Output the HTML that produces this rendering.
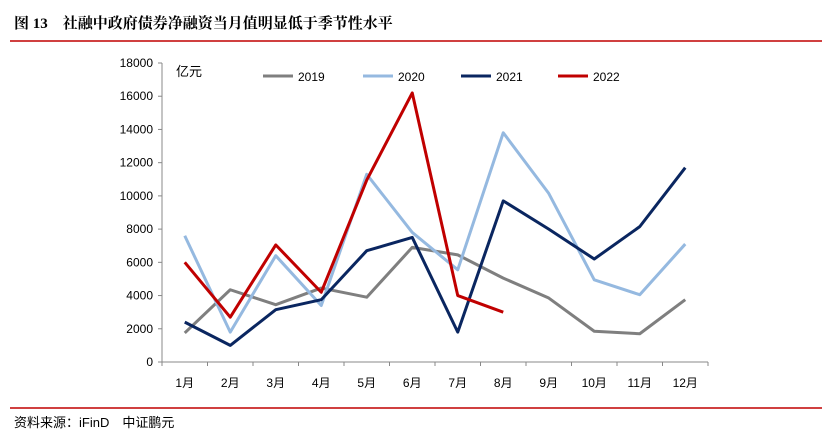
<!DOCTYPE html>
<html><head><meta charset="utf-8"><style>
body{margin:0;background:#fff;width:832px;height:436px;overflow:hidden;font-family:"Liberation Sans","Noto Sans CJK SC",sans-serif}
</style></head><body>
<svg width="832" height="436" xmlns="http://www.w3.org/2000/svg">
<text x="14" y="28" font-size="15" font-weight="bold" font-family="Liberation Serif, Noto Serif CJK SC, serif" fill="#000">图 13　社融中政府债券净融资当月值明显低于季节性水平</text>
<line x1="10" y1="41" x2="822" y2="41" stroke="#c00000" stroke-width="1.5"/>
<line x1="10" y1="408" x2="822" y2="408" stroke="#c00000" stroke-width="1.5"/>
<text x="14" y="427" font-size="13" fill="#000">资料来源：iFinD　中证鹏元</text>
<text x="176" y="76" font-size="13" fill="#000">亿元</text>
<g id="axes"></g><g id="series"></g><g id="legend"></g>
</svg>
<script>
const categories=['1月','2月','3月','4月','5月','6月','7月','8月','9月','10月','11月','12月'];
const yTicks=[0,2000,4000,6000,8000,10000,12000,14000,16000,18000];
const s2019=[1750,4350,3450,4450,3900,6900,6450,5050,3850,1850,1700,3750];
const s2020=[7600,1800,6400,3400,11300,7800,5550,13800,10150,4950,4050,7100];
const s2021=[2400,1000,3150,3750,6700,7500,1800,9700,8000,6200,8150,11700];
const s2022=[6000,2700,7050,4200,10950,16200,4000,3000];
const NS='http://www.w3.org/2000/svg';
const x0=162,x1=708,yb=362,yt=63;
const xs=i=>x0+(x1-x0)/categories.length*(i+0.5);
const ys=v=>yb-(v/18000)*(yb-yt);
function mk(t,a,p){const e=document.createElementNS(NS,t);for(const k in a)e.setAttribute(k,a[k]);p.appendChild(e);return e;}
const ax=document.getElementById('axes');
const yl=mk('line',{x1:x0,y1:yt,x2:x0,y2:yb,stroke:'#888'},ax);


const xl=mk('line',{x1:x0,y1:yb,x2:x1,y2:yb,stroke:'#888'},ax);


yTicks.forEach(v=>{
 mk('line',{x1:x0-4,y1:ys(v),x2:x0,y2:ys(v),stroke:'#888'},ax);
 const t=mk('text',{x:x0-9,y:ys(v)+4,'font-size':12,'text-anchor':'end'},ax);t.textContent=v;
 
 
});
categories.forEach((c,i)=>{
 const xt=x0+(x1-x0)/categories.length*i;
 mk('line',{x1:xt,y1:yb,x2:xt,y2:yb+4,stroke:'#888'},ax);
 const t=mk('text',{x:xs(i),y:yb+25,'font-size':12,'text-anchor':'middle'},ax);t.textContent=c;
 
 
});
mk('line',{x1:x1,y1:yb,x2:x1,y2:yb+4,stroke:'#888'},ax);
const sg=document.getElementById('series'),lg=document.getElementById('legend');
const defs=[['2019',s2019,'#7f7f7f',263],['2020',s2020,'#95b9e0',363],['2021',s2021,'#0a2660',461],['2022',s2022,'#c00000',558]];
defs.forEach(([n,d,c,lx])=>{
 const p=mk('polyline',{points:d.map((v,i)=>xs(i)+','+ys(v)).join(' '),fill:'none',stroke:c,'stroke-width':3,'stroke-linejoin':'round'},sg);
 
 
 const l=mk('line',{x1:lx,y1:76,x2:lx+30,y2:76,stroke:c,'stroke-width':3},lg);
 
 
 const t=mk('text',{x:lx+35,y:81,'font-size':12},lg);t.textContent=n;
 
 
});
</script>
</body></html>
